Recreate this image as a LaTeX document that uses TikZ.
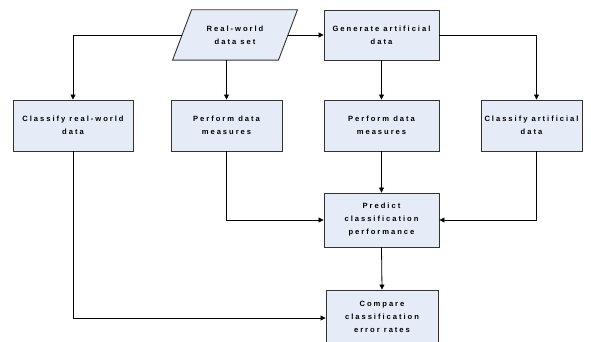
\documentclass[tikz,border=0pt]{standalone}
\usepackage{fontspec}
\setmainfont{Liberation Sans}[LetterSpace=26]
\usetikzlibrary{arrows.meta}
\definecolor{boxfill}{HTML}{E6ECF7}
\definecolor{boxline}{HTML}{333333}
\tikzset{
  txt/.style={align=center, inner sep=0pt, font=\fontsize{7.6}{13}\selectfont\bfseries},
  box/.style={txt, draw=boxline, fill=boxfill, line width=0.9pt},
  shapeline/.style={draw=boxline, fill=boxfill, line width=0.9pt},
  conn/.style={line width=0.8pt, draw=black},
  arr/.style={conn, -{Triangle[length=5pt,width=5pt]}},
}
\begin{document}
\begin{tikzpicture}[x=1pt,y=-1pt]
\useasboundingbox (0,0) rectangle (591,342);
\begin{scope}
\clip (0,0) rectangle (591,342);
\node[txt, minimum width=105.5pt, minimum height=50pt] (data) at (235,35) {};
\path[shapeline] ([xshift=9.5pt]data.north west) -- ([xshift=9.5pt]data.north east)
  -- ([xshift=-9.5pt]data.south east) -- ([xshift=-9.5pt]data.south west) -- cycle;
\node[txt] (datatext) at (data.center) {Real-world\\data set};
\node[box, minimum width=115pt, minimum height=50pt] (gen) at (381.5,35) {Generate artificial\\data};
\node[box, minimum width=120pt, minimum height=51pt] (cr) at (73,125.5) {Classify real-world\\data};
\node[box, minimum width=111pt, minimum height=51pt] (pm1) at (226.5,125.5) {Perform data\\measures};
\node[box, minimum width=115pt, minimum height=51pt] (pm2) at (381.5,125.5) {Perform data\\measures};
\node[box, minimum width=101pt, minimum height=51pt] (ca) at (531.5,125.5) {Classify artificial\\data};
\node[box, minimum width=115pt, minimum height=54pt] (pred) at (381.5,220) {Predict\\classification\\performance};
\node[box, minimum width=112pt, minimum height=54pt] (cmp) at (382,317) {Compare\\classification\\error rates};
\coordinate (catop) at ([xshift=5pt]ca.north);
\coordinate (cabot) at ([xshift=5pt]ca.south);
\end{scope}
\draw[arr] (data.west) -| (cr.north);
\draw[arr] (data.east) -- (gen.west);
\draw[arr] (pm1.north |- data.south) -- (pm1.north);
\draw[arr] (gen.east) -| (catop);
\draw[arr] (gen.south) -- (pm2.north);
\draw[arr] (pm2.south) -- (pred.north);
\draw[arr] (pm1.south) |- (pred.west);
\draw[arr] (cabot) |- (pred.east);
\draw[arr] (pred.south) -- (cmp.north);
\draw[arr] (cr.south) |- ([yshift=-1pt]cmp.west);
\end{tikzpicture}
\end{document}
